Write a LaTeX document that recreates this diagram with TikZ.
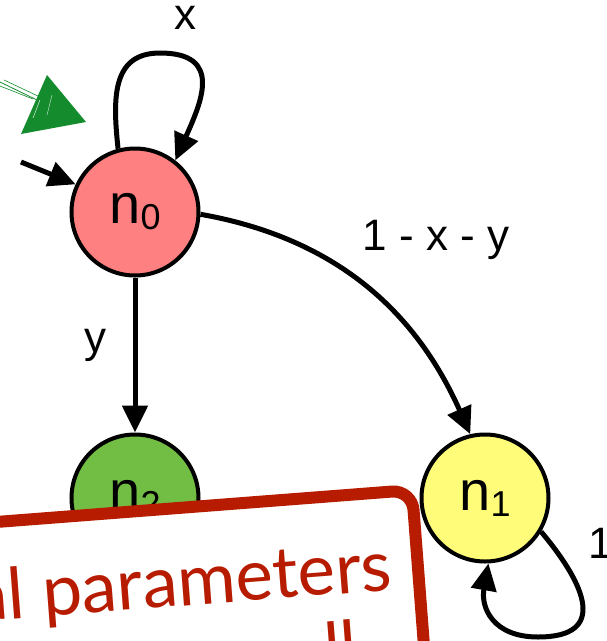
\documentclass[tikz,border=0pt]{standalone}
\usepackage{fontspec}
\setmainfont{Liberation Sans}
\newfontfamily\boxfont{Lato}
\usetikzlibrary{arrows.meta}
\definecolor{nred}{RGB}{255,128,128}
\definecolor{ngreen}{RGB}{114,190,68}
\definecolor{nyellow}{RGB}{255,252,122}
\definecolor{boxred}{RGB}{183,28,0}
\definecolor{sketchgreen}{RGB}{20,140,45}
\newcommand{\sub}[1]{\raisebox{-6pt}{\fontsize{36}{36}\selectfont #1}}
\begin{document}
\begin{tikzpicture}[x=1pt,y=1pt,
 state/.style={circle,draw=black,line width=4pt,minimum size=127pt,inner sep=0pt,font=\fontsize{56}{56}\selectfont},
 edge/.style={line width=5pt,-{Triangle[length=27pt,width=25pt]}},
 lbl/.style={font=\fontsize{44}{44}\selectfont,inner sep=0pt}]
\useasboundingbox (0,0) rectangle (607,-641);
\clip (0,0) rectangle (607,-641);

% green sketched arrow
\coordinate (g0) at (0,-82);
\coordinate (g1) at (37,-100);
\draw[sketchgreen,line width=0.8pt] (g0) -- (g1);
\draw[sketchgreen,line width=0.6pt] (0,-86) -- (33,-99);
\draw[sketchgreen,line width=0.6pt] (4,-80) -- (40,-97);
\fill[sketchgreen] (47,-75) -- (21,-134) -- (86,-122) -- cycle;
\draw[white,line width=0.4pt] (40,-100) -- (33,-118);
\draw[white,line width=0.3pt] (52,-95) -- (47,-115);

% nodes
\node[state,fill=nred] (n0) at (135,-212) {n\sub{0}};
\node[state,fill=ngreen] (n2) at (135,-498) {n\sub{2}};

% labels
\node[lbl] (lx) at (185,-18) {x};
\node[lbl] (ly) at (95,-345) {y};
\node[lbl] (lxy) at (436,-240) {1 - x - y};
\node[lbl,anchor=west] (l1) at (588,-543) {1};

% edges from n0
\coordinate (init) at (21,-162);
\coordinate (top0) at (160,-53);
\draw[edge] (init) -- (n0.155);
\draw[edge] (n0.105) to[out=96,in=180,looseness=1.2] (top0) to[out=0,in=66,looseness=1.5] (n0.52);
\draw[edge] (n0.south) -- (n2.north);

% red box
\begin{scope}[shift={(412,-490)},rotate=4.4]
 \draw[boxred,line width=12pt,fill=white,rounded corners=20pt] (-700,-500) rectangle (0,0);
 \node[transform shape,anchor=base east,text=boxred,inner sep=0pt,font=\boxfont\fontsize{71}{71}\selectfont] (t1) at (-26,-98) {al parameters};
 \node[transform shape,anchor=base west,text=boxred,inner sep=0pt,font=\boxfont\fontsize{71}{71}\selectfont] (t2) at (-100,-177) {ll};
\end{scope}

\node[state,fill=nyellow] (n1) at (485,-498) {n\sub{1}};
\draw[edge] (n0.-2) to[out=-10,in=114] (n1.103);
\coordinate (bot1) at (538,-637);
\draw[edge] (n1.-31) to[out=-50,in=0,looseness=1.7] (bot1) to[out=180,in=-100,looseness=1.3] (n1.-87);
\end{tikzpicture}
\end{document}
